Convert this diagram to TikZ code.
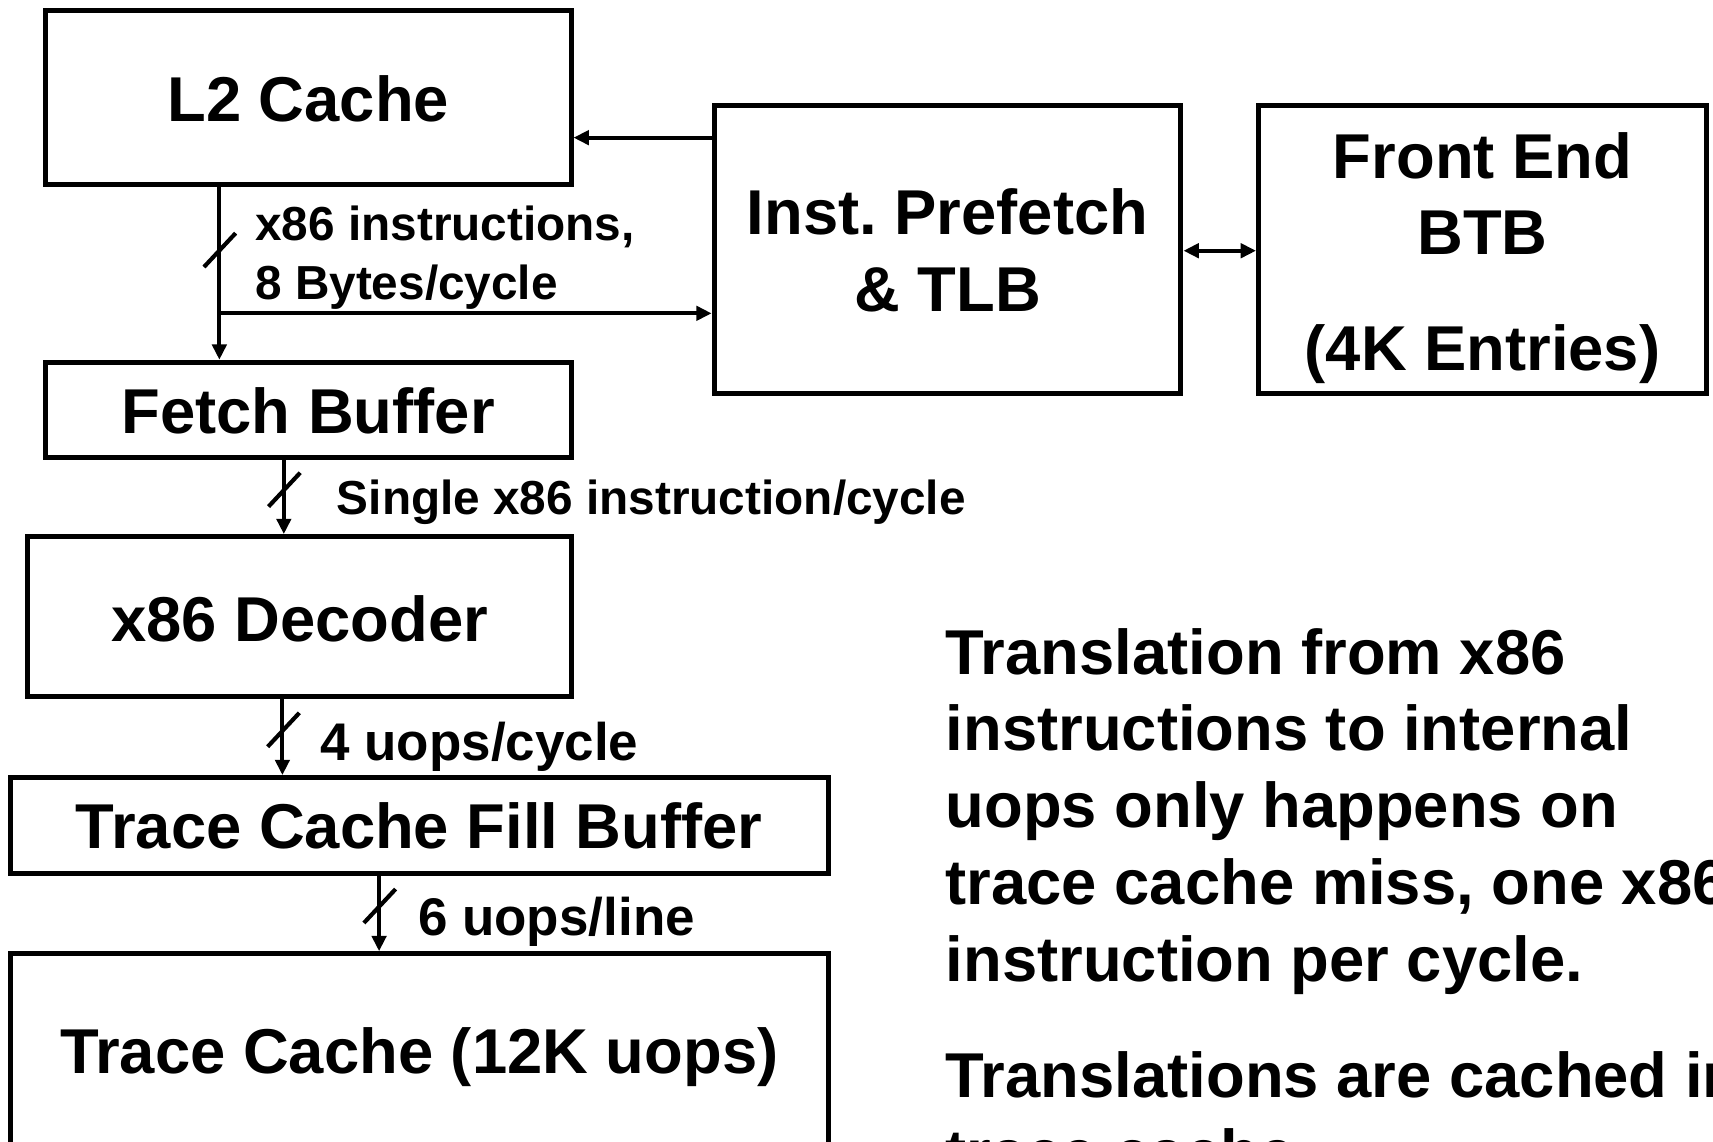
\documentclass[tikz,border=0pt]{standalone}
\usepackage{fontspec}
\setmainfont{Liberation Sans}
\usetikzlibrary{arrows.meta}
\frenchspacing
\begin{document}
\begin{tikzpicture}[x=1pt,y=-1pt,
  blk/.style={draw, line width=4.6pt, inner sep=0pt, fill=none},
  big/.style={font=\fontsize{58}{68}\selectfont\bfseries, inner sep=0pt, anchor=base},
  para/.style={font=\fontsize{58}{68}\selectfont\bfseries, inner sep=0pt, anchor=base west},
  lblA/.style={font=\fontsize{43.7}{52}\selectfont\bfseries, inner sep=0pt, anchor=base west},
  lblB/.style={font=\fontsize{48.5}{58}\selectfont\bfseries, inner sep=0pt, anchor=base west},
  conn/.style={line width=3.8pt, -{Triangle[length=14pt,width=13pt]}},
  biconn/.style={line width=3.8pt, {Triangle[length=14pt,width=13pt]}-{Triangle[length=14pt,width=13pt]}},
  busmark/.style={line width=3.8pt}]
\useasboundingbox (0,0) rectangle (1568,1045);
\clip (0,0) rectangle (1568,1045);
\fill[white] (0,0) rectangle (1568,1045);

% blocks
\node[blk, minimum width=481.2pt, minimum height=159.8pt] (l2)   at (282.1,89.4) {};
\node[blk, minimum width=427.3pt, minimum height=263pt]   (pf)   at (867.35,228.5) {};
\node[blk, minimum width=410pt,   minimum height=263pt]   (btb)  at (1357,228.5) {};
\node[blk, minimum width=481.2pt, minimum height=87.2pt]  (fb)   at (282.1,375.2) {};
\node[blk, minimum width=498.5pt, minimum height=146.5pt] (dec)  at (274.25,564.45) {};
\node[blk, minimum width=748.5pt, minimum height=87.5pt]  (tcfb) at (383.75,755.55) {};
\node[blk, minimum width=748.5pt, minimum height=227pt]   (tc)   at (383.75,986.5) {};

% block titles
\node[big] (tl2)  at (282.1,111.4) {L2 Cache};
\node[big] (tpf1) at (867.35,215) {Inst. Prefetch};
\node[big] (tpf2) at (867.35,285.3) {\& TLB};
\node[big] (tbt1) at (1357,163.2) {Front End};
\node[big] (tbt2) at (1357,233.4) {BTB};
\node[big] (tbt3) at (1357,338.7) {(4K Entries)};
\node[big] (tfb)  at (282.1,396.6) {Fetch Buffer};
\node[big] (tdec) at (274.25,587.3) {x86 Decoder};
\node[big] (ttf)  at (383.75,776.5) {Trace Cache Fill Buffer};
\node[big] (ttc)  at (383.75,982.5) {Trace Cache (12K uops)};

% connectors
\coordinate (br) at (200.8,286.8);
\draw[conn] (pf.west |- 0,126) -- (l2.east |- 0,126);
\draw[conn] (l2.south -| br) -- (fb.north -| br);
\draw[conn] (br) -- (pf.west |- br);
\draw[biconn] (pf.east |- 0,229.5) -- (btb.west |- 0,229.5);
\draw[conn] (fb.south -| 259.8,0) -- (dec.north -| 259.8,0);
\draw[conn] (dec.south -| 258.5,0) -- (tcfb.north -| 258.5,0);
\draw[conn] (tcfb.south -| 347,0) -- (tc.north -| 347,0);

% bus-width marks
\coordinate (m1) at (201.2,228.9);
\coordinate (m2) at (260.3,448.2);
\coordinate (m3) at (259.5,668);
\coordinate (m4) at (347.6,829.3);
\foreach \m in {m1,m2,m3,m4}
  \draw[busmark] ([shift={(-14.5,15.5)}]\m) -- ([shift={(14.5,-15.5)}]\m);

% connector labels
\node[lblA] (la1) at (233.5,220.5) {x86 instructions,};
\node[lblA] (la2) at (233.5,274) {8 Bytes/cycle};
\node[lblA] (la3) at (308.2,470.5) {Single x86 instruction/cycle};
\node[lblB] (lb1) at (293,695.7) {4 uops/cycle};
\node[lblB] (lb2) at (382.5,856) {6 uops/line};

% side notes
\node[para] (n1) at (865.5,617) {Translation from x86};
\node[para] (n2) at (865.5,687.3) {instructions to internal};
\node[para] (n3) at (865.5,757.6) {uops only happens on};
\node[para] (n4) at (865.5,828) {trace cache miss, one x86};
\node[para] (n5) at (865.5,898) {instruction per cycle.};
\node[para] (n6) at (865.5,1005) {Translations are cached in};
\node[para] (n7) at (865.5,1075) {trace cache.};
\end{tikzpicture}
\end{document}
